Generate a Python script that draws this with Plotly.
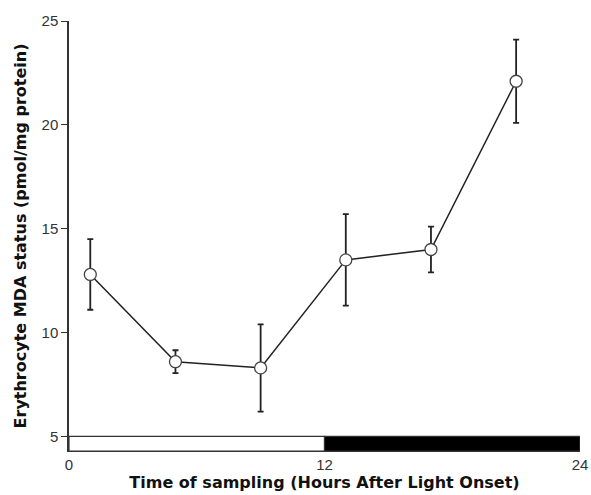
import plotly.graph_objects as go

# Data
hours = [1, 5, 9, 13, 17, 21]
mda = [12.8, 8.6, 8.3, 13.5, 14.0, 22.1]
sem = [1.7, 0.55, 2.1, 2.2, 1.1, 2.0]

# Light/dark schedule (start hour, end hour, colour)
period_start = [0, 12]
period_end = [12, 24]
period_color = ["white", "black"]

y_ticks = [5, 10, 15, 20, 25]
x_ticks = [0, 12, 24]
y_min, y_max = 4.3, 25
bar_top = 5

fig = go.Figure()

fig.add_trace(go.Scatter(
    x=hours, y=mda,
    mode="lines+markers",
    line=dict(color="#222222", width=1.5),
    marker=dict(symbol="circle", size=12, color="white",
                line=dict(color="#444444", width=1.3)),
    error_y=dict(type="data", array=sem, visible=True,
                 color="#222222", thickness=1.8, width=3),
    showlegend=False,
    cliponaxis=False,
))

shapes = []
for s, e, c in zip(period_start, period_end, period_color):
    shapes.append(dict(type="rect", xref="x", yref="y",
                       x0=s, x1=e, y0=y_min, y1=bar_top,
                       fillcolor=c, line=dict(color="#333333", width=1.2),
                       layer="below"))

title_font = dict(family="DejaVu Sans, Liberation Sans, Arial, sans-serif",
                  size=16, color="#111111")

fig.update_layout(
    width=591, height=495,
    margin=dict(l=69, r=11, t=21, b=44, autoexpand=False),
    paper_bgcolor="white", plot_bgcolor="white",
    font=dict(family="Liberation Sans, Arial, sans-serif", color="#333333", size=15),
    shapes=shapes,
    xaxis=dict(
        range=[0, 24], tickvals=x_ticks, ticks="", showgrid=False,
        zeroline=False, showline=True, linecolor="#333333", linewidth=1.2,
        automargin=False,
        tickfont=dict(size=15, color="#333333"),
        title=dict(text="<b>Time of sampling (Hours After Light Onset)</b>",
                   font=title_font, standoff=4),
    ),
    yaxis=dict(
        range=[y_min, y_max], tickvals=y_ticks, ticks="outside", ticklen=6,
        tickcolor="#333333", tickwidth=1.2, showgrid=False, zeroline=False,
        showline=True, linecolor="#333333", linewidth=1.5,
        automargin=False,
        tickfont=dict(size=15, color="#333333"),
        title=dict(text="<b>Erythrocyte MDA status (pmol/mg protein)</b>",
                   font=title_font, standoff=11),
    ),
)

fig.write_html("out.html", config={"displayModeBar": False},
               post_script="document.body.style.margin='0';")
